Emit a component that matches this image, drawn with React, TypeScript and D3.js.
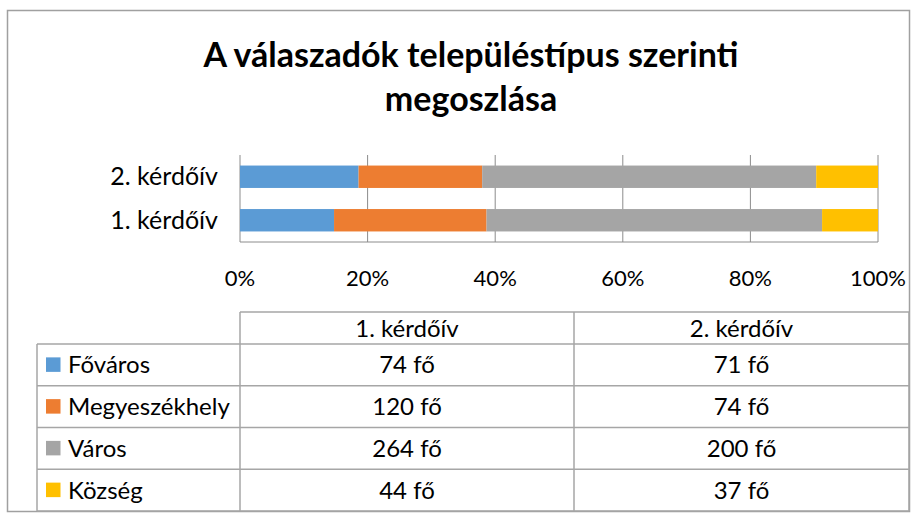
import React from 'react';
import * as d3 from 'd3';

const titleLines = ['A válaszadók településtípus szerinti', 'megoszlása'];
const categories = ['1. kérdőív', '2. kérdőív'];
const seriesNames = ['Főváros', 'Megyeszékhely', 'Város', 'Község'];
const fovaros = [74, 71];
const megyeszekhely = [120, 74];
const varos = [264, 200];
const kozseg = [44, 37];
const tickValues = [0, 0.2, 0.4, 0.6, 0.8, 1];
const colors = ['#5B9BD5', '#ED7D31', '#A5A5A5', '#FFC000'];
const unit = 'fő';

const W = 923;
const H = 530;
const FONT = 'Lato, "Liberation Sans", sans-serif';

export default function App() {
  const seriesValues = [fovaros, megyeszekhely, varos, kozseg];
  const rows = categories.map((c, i) => {
    const r: any = { cat: c };
    seriesNames.forEach((s, j) => (r[s] = seriesValues[j][i]));
    return r;
  });
  const stacked = d3.stack<any>().keys(seriesNames).offset(d3.stackOffsetExpand)(rows);

  const x = d3.scaleLinear().domain([0, 1]).range([240, 878]);
  const y = d3
    .scaleBand<string>()
    .domain([...categories].reverse())
    .range([155, 242])
    .paddingInner(0.485)
    .paddingOuter(0.2425);
  const fmt = d3.format('.0%');

  const tblTop = 312;
  const hdrBottom = 344;
  const rowBounds = [344, 385.75, 427.5, 469.25, 511];
  const colX = [37, 240, 574, 909];
  const gridColor = '#8c8c8c';
  const tblColor = '#a6a6a6';

  return (
    <svg width={W} height={H} style={{ position: 'absolute', left: 0, top: 0, background: '#fff' }} fontFamily={FONT}>
      <rect x={0} y={0} width={W} height={H} fill="#fff" />
      <rect x={7.5} y={10.5} width={902} height={501} fill="none" stroke="#a0a0a0" strokeWidth={1.5} />
      {titleLines.map((t, i) => (
        <text key={i} x={471} y={67 + i * 44} textAnchor="middle" fontSize={34} fontWeight={700} fill="#000">
          {t}
        </text>
      ))}
      {/* gridlines */}
      {tickValues.map((v) => (
        <line key={v} x1={x(v)} x2={x(v)} y1={155} y2={242} stroke={gridColor} strokeWidth={1} />
      ))}
      <line x1={240} x2={878} y1={242} y2={242} stroke={gridColor} strokeWidth={1} />
      {/* bars */}
      {stacked.map((s, j) => (
        <g key={s.key} fill={colors[j]}>
          {s.map((d, i) => (
            <rect key={i} x={x(d[0])} width={x(d[1]) - x(d[0])} y={y(d.data.cat)} height={y.bandwidth()} />
          ))}
        </g>
      ))}
      {/* category labels */}
      {categories.map((c) => (
        <text key={c} x={218} y={(y(c) as number) + y.bandwidth() / 2 + 8.5} textAnchor="end" fontSize={25} fill="#000">
          {c}
        </text>
      ))}
      {/* tick labels */}
      {tickValues.map((v) => (
        <text key={v} x={x(v)} y={286} textAnchor="middle" fontSize={22} fill="#000">
          {fmt(v)}
        </text>
      ))}
      {/* data table */}
      <line x1={colX[1]} x2={colX[3]} y1={tblTop} y2={tblTop} stroke={tblColor} strokeWidth={1.5} />
      {rowBounds.map((yy, i) => (
        <line key={i} x1={colX[0]} x2={colX[3]} y1={yy} y2={yy} stroke={tblColor} strokeWidth={1.5} />
      ))}
      <line x1={colX[0]} x2={colX[0]} y1={hdrBottom} y2={511} stroke={tblColor} strokeWidth={1.5} />
      {colX.slice(1).map((cx, i) => (
        <line key={i} x1={cx} x2={cx} y1={tblTop} y2={511} stroke={tblColor} strokeWidth={1.5} />
      ))}
      {categories.map((c, i) => (
        <text key={c} x={(colX[i + 1] + colX[i + 2]) / 2} y={(tblTop + hdrBottom) / 2 + 8.5} textAnchor="middle" fontSize={24} fill="#000">
          {c}
        </text>
      ))}
      {seriesNames.map((s, j) => {
        const cy = (rowBounds[j] + rowBounds[j + 1]) / 2;
        return (
          <g key={s}>
            <rect x={46} y={cy - 7.5} width={14.5} height={14.5} fill={colors[j]} />
            <text x={68} y={cy + 8.5} fontSize={24} fill="#000">
              {s}
            </text>
            {categories.map((c, i) => (
              <text key={c} x={(colX[i + 1] + colX[i + 2]) / 2} y={cy + 8.5} textAnchor="middle" fontSize={24} fill="#000">
                {`${seriesValues[j][i]} ${unit}`}
              </text>
            ))}
          </g>
        );
      })}
    </svg>
  );
}
